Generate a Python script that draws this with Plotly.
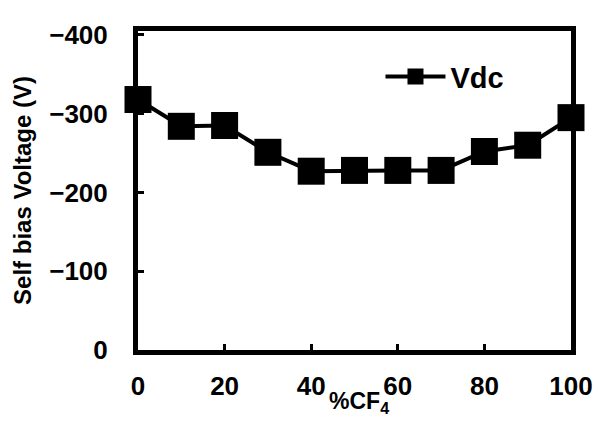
import plotly.graph_objects as go

cf4_percent = [0, 10, 20, 30, 40, 50, 60, 70, 80, 90, 100]
vdc = [-318, -284, -285, -251, -227, -228, -228, -228, -252, -260, -295]
x_ticks = [0, 20, 40, 60, 80, 100]
y_ticks = [0, -100, -200, -300, -400]

tick_font = dict(family="Liberation Sans, Arial", size=26, color="black", weight="bold")

fig = go.Figure()
fig.add_trace(go.Scatter(
    x=cf4_percent, y=vdc, mode="lines+markers", name="Vdc",
    line=dict(color="black", width=4),
    marker=dict(symbol="square", size=27, color="black"),
    cliponaxis=False,
))
fig.update_layout(
    width=597, height=417,
    margin=dict(l=128, r=28, t=14, b=75),
    paper_bgcolor="white", plot_bgcolor="white",
    font=tick_font,
    showlegend=True,
    legend=dict(x=0.56, y=0.857, xanchor="left", yanchor="middle",
                bgcolor="rgba(0,0,0,0)",
                font=dict(family="Liberation Sans, Arial", size=29, weight="bold"),
                itemwidth=60),
    annotations=[dict(
        text="%CF<sub>4</sub>", xref="paper", yref="paper", x=0.51, y=-0.165,
        xanchor="center", yanchor="middle", showarrow=False,
        font=dict(family="Liberation Sans, Arial", size=23, weight="bold"),
    )],
)
fig.update_xaxes(
    range=[0, 100], tickvals=x_ticks, showgrid=False, zeroline=False,
    showline=True, linecolor="black", linewidth=5, mirror=True,
    ticks="inside", ticklen=6, tickwidth=3, tickcolor="black",
    ticklabelstandoff=9,
)
fig.update_yaxes(
    range=[0, -405], tickvals=y_ticks, showgrid=False, zeroline=False,
    showline=True, linecolor="black", linewidth=5, mirror=True,
    ticks="inside", ticklen=6, tickwidth=3, tickcolor="black",
    ticklabelstandoff=20,
    title=dict(text="Self bias Voltage (V)", standoff=12,
               font=dict(family="Liberation Sans, Arial", size=24, weight="bold")),
)
fig.write_html("out.html")
